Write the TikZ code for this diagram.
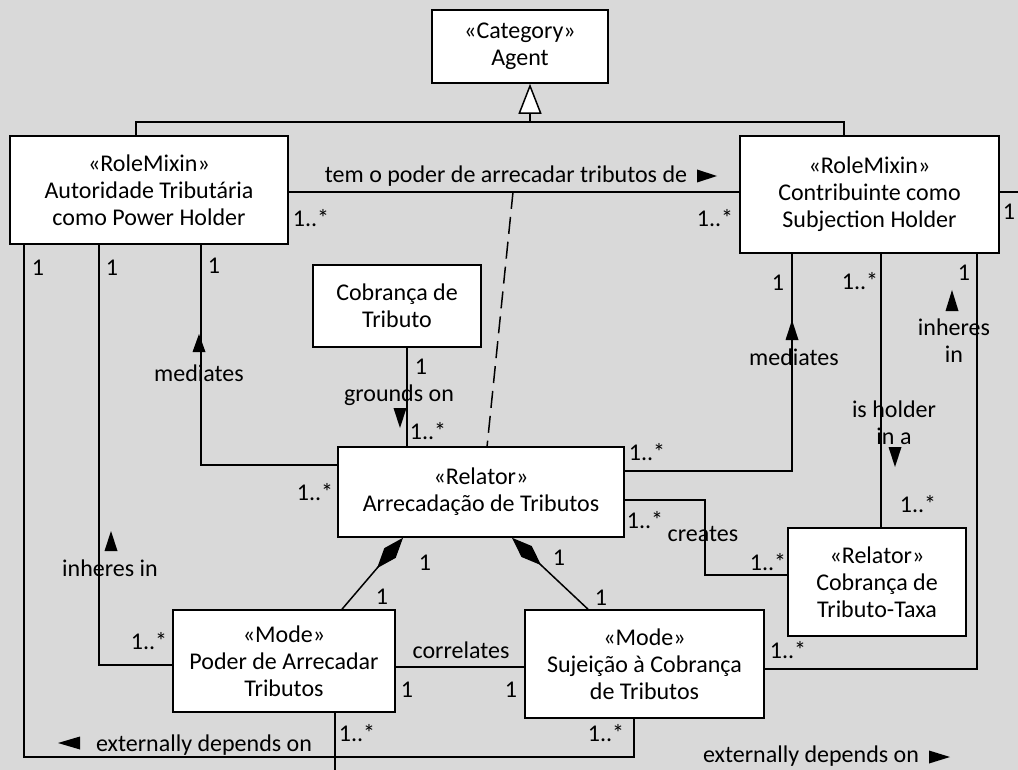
\documentclass[tikz,border=0pt]{standalone}
\usepackage{fontspec}
\setmainfont{Carlito}
\usetikzlibrary{arrows.meta}
\definecolor{bg}{HTML}{D9D9D9}
\begin{document}
\begin{tikzpicture}[x=1pt,y=-1pt,
  box/.style={draw,fill=white,line width=1.6pt,align=center,inner sep=0pt,font=\fontsize{24}{27}\selectfont},
  lbl/.style={inner sep=0pt,font=\fontsize{24}{27}\selectfont,align=center},
  conn/.style={line width=1.5pt},
  tri/.style={fill=black}]
\path[fill=bg] (0,0) rectangle (1018,770);
\useasboundingbox (0,0) rectangle (1018,770);
\clip (0,0) rectangle (1018,770);

% classes
\node[box,minimum width=176pt,minimum height=73pt] (agent) at (520,46.5) {«Category»\\Agent};
\node[box,minimum width=278pt,minimum height=108pt] (lrm) at (149,190) {«RoleMixin»\\Autoridade Tributária\\como Power Holder};
\node[box,minimum width=259pt,minimum height=117pt] (rrm) at (869.5,194.5) {«RoleMixin»\\Contribuinte como\\Subjection Holder};
\node[box,minimum width=168pt,minimum height=82pt] (cob) at (397,306) {Cobrança de\\Tributo};
\node[box,minimum width=286pt,minimum height=90pt] (rel) at (481,492) {«Relator»\\Arrecadação de Tributos};
\node[box,minimum width=178pt,minimum height=108pt] (taxa) at (877,582) {«Relator»\\Cobrança de\\Tributo-Taxa};
\node[box,minimum width=222pt,minimum height=102pt] (poder) at (284,661) {«Mode»\\Poder de Arrecadar\\Tributos};
\node[box,minimum width=239pt,minimum height=108pt] (suj) at (644.5,664) {«Mode»\\Sujeição à Cobrança\\de Tributos};

% helper coordinates
\coordinate (gl) at (136,122);
\coordinate (gr) at (844,122);
\coordinate (gt) at (530,122);
\coordinate (a1) at (500,192);
\coordinate (d1) at (513,192);
\coordinate (dtop) at (487,447);
\coordinate (c1) at (407,0);
\coordinate (m1) at (201,465);
\coordinate (m2) at (792,471);
\coordinate (cr1) at (705,500);
\coordinate (cr2) at (705,575);
\coordinate (h1) at (881,0);
\coordinate (i1) at (977,669);
\coordinate (k1) at (403,537);
\coordinate (k2) at (342,610);
\coordinate (k3) at (512,537);
\coordinate (k4) at (588,610);
\coordinate (r1) at (460,667);
\coordinate (i2) at (99,665);
\coordinate (e1) at (24,757);
\coordinate (e2) at (634,757);
\coordinate (e3) at (335,780);
\coordinate (e4) at (1030,192);

% generalization
\draw[conn] (lrm.north -| gl) -- (gl) -- (gr) -- (rrm.north -| gr);
\draw[conn,-{Triangle[length=30pt,width=23pt,fill=white]}] (gt) -- (agent.south -| gt);

% associations
\draw[conn] (lrm.east |- a1) -- (rrm.west |- a1);
\draw[conn,dashed,dash pattern=on 17pt off 8pt] (d1) -- (dtop);
\draw[conn] (cob.south -| c1) -- (rel.north -| c1);
\draw[conn] (rel.west |- m1) -| (lrm.south -| m1);
\draw[conn] (rel.east |- m2) -| (rrm.south -| m2);
\draw[conn] (rel.east |- cr1) -- (cr1) -- (cr2) -- (taxa.west |- cr2);
\draw[conn] (rrm.south -| h1) -- (taxa.north -| h1);
\draw[conn] (rrm.south -| i1) |- (suj.east |- i1);
\draw[conn,{Diamond[length=40pt,width=15pt]}-] (rel.south -| k1) -- (poder.north -| k2);
\draw[conn,{Diamond[length=40pt,width=15pt]}-] (rel.south -| k3) -- (suj.north -| k4);
\draw[conn] (poder.east |- r1) -- (suj.west |- r1);
\draw[conn] (lrm.south -| i2) |- (poder.west |- i2);
\draw[conn] (lrm.south -| e1) -- (e1) -- (e2) -- (suj.south -| e2);
\draw[conn] (poder.south -| e3) -- (e3);
\draw[conn] (rrm.east |- e4) -- (e4);

% direction triangles
\fill[tri] (717,176) -- (697,169.5) -- (697,182.5) -- cycle;
\fill[tri] (400,428) -- (393.5,408) -- (406.5,408) -- cycle;
\fill[tri] (199,334) -- (192.5,352) -- (205.5,352) -- cycle;
\fill[tri] (792,320) -- (785.5,340) -- (798.5,340) -- cycle;
\fill[tri] (895,467) -- (888.5,447) -- (901.5,447) -- cycle;
\fill[tri] (952,290) -- (945.5,311) -- (958.5,311) -- cycle;
\fill[tri] (111,531) -- (104.5,551) -- (117.5,551) -- cycle;
\fill[tri] (58,743) -- (80,736.5) -- (80,749.5) -- cycle;
\fill[tri] (950,757) -- (929,750.5) -- (929,763.5) -- cycle;

% labels
\node[lbl] (t1) at (506,176) {tem o poder de arrecadar tributos de};
\node[lbl] (t2) at (311,218) {1..*};
\node[lbl] (t3) at (715,218) {1..*};
\node[lbl] (t4) at (1009,212) {1};
\node[lbl] (t5) at (38,268) {1};
\node[lbl] (t6) at (112,268) {1};
\node[lbl] (t7) at (214,266) {1};
\node[lbl] (t8) at (778,283) {1};
\node[lbl] (t9) at (860,281) {1..*};
\node[lbl] (t10) at (964,273) {1};
\node[lbl] (t11) at (421,367) {1};
\node[lbl] (t12) at (399,395) {grounds on};
\node[lbl] (t13) at (428,431) {1..*};
\node[lbl] (t14) at (199,373) {mediates};
\node[lbl] (t15) at (794,357) {mediates};
\node[lbl] (t16) at (315,492) {1..*};
\node[lbl] (t17) at (647,452) {1..*};
\node[lbl] (t18) at (645,520) {1..*};
\node[lbl] (t19) at (703,534) {creates};
\node[lbl] (t20) at (768,562) {1..*};
\node[lbl] (t21) at (894,423) {is holder\\in a};
\node[lbl] (t22) at (954,341) {inheres\\in};
\node[lbl] (t23) at (918,504) {1..*};
\node[lbl] (t24) at (110,568) {inheres in};
\node[lbl] (t25) at (149,641) {1..*};
\node[lbl] (t26) at (425,563) {1};
\node[lbl] (t27) at (382,597) {1};
\node[lbl] (t28) at (559,558) {1};
\node[lbl] (t29) at (601,598) {1};
\node[lbl] (t30) at (461,650) {correlates};
\node[lbl] (t31) at (407,690) {1};
\node[lbl] (t32) at (511,690) {1};
\node[lbl] (t33) at (788,650) {1..*};
\node[lbl] (t34) at (204,745) {externally depends on};
\node[lbl] (t35) at (357,733) {1..*};
\node[lbl] (t36) at (606,733) {1..*};
\node[lbl] (t37) at (811,756) {externally depends on};
\end{tikzpicture}
\end{document}
